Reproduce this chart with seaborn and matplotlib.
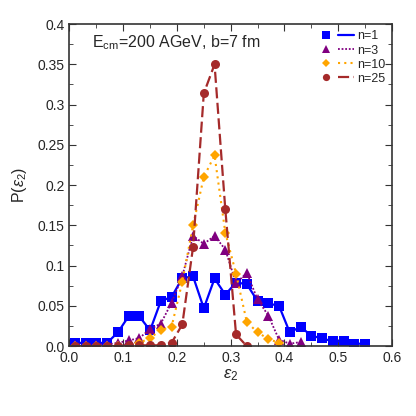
import numpy as np
import pandas as pd
import seaborn as sns
import matplotlib
matplotlib.use("Agg")
import matplotlib.pyplot as plt
from matplotlib.ticker import MultipleLocator, FixedLocator, FixedFormatter
from matplotlib.legend_handler import HandlerTuple
from matplotlib.lines import Line2D

# bin centres of epsilon_2
eps_n1 = [0.01, 0.03, 0.05, 0.07, 0.09, 0.11, 0.13, 0.15, 0.17, 0.19, 0.21, 0.23, 0.25, 0.27,
          0.29, 0.31, 0.33, 0.35, 0.37, 0.39, 0.41, 0.43, 0.45, 0.47, 0.49, 0.51, 0.53, 0.55]
p_n1 = [0.004, 0.004, 0.004, 0.004, 0.017, 0.037, 0.037, 0.0195, 0.056, 0.061, 0.0845, 0.0866,
        0.047, 0.084, 0.064, 0.079, 0.077, 0.056, 0.053, 0.050, 0.017, 0.024, 0.013, 0.0095,
        0.006, 0.006, 0.003, 0.003]

eps_n3 = [0.01, 0.03, 0.05, 0.07, 0.09, 0.11, 0.13, 0.15, 0.17, 0.19, 0.21, 0.23, 0.25, 0.27,
          0.29, 0.31, 0.33, 0.35, 0.37, 0.39, 0.41, 0.43]
p_n3 = [0.002, 0.002, 0.002, 0.002, 0.004, 0.007, 0.010, 0.021, 0.028, 0.054, 0.087, 0.137,
        0.127, 0.137, 0.120, 0.078, 0.091, 0.058, 0.038, 0.008, 0.003, 0.005]

eps_n10 = [0.01, 0.03, 0.05, 0.07, 0.09, 0.11, 0.13, 0.15, 0.17, 0.19, 0.21, 0.23, 0.25, 0.27,
           0.29, 0.31, 0.33, 0.35, 0.37, 0.39]
p_n10 = [0.0, 0.0, 0.0, 0.0, 0.0, 0.0, 0.004, 0.010, 0.020, 0.024, 0.080, 0.150, 0.210, 0.237,
         0.141, 0.090, 0.030, 0.017, 0.009, 0.004]

eps_n25 = [0.01, 0.03, 0.05, 0.07, 0.09, 0.11, 0.13, 0.15, 0.17, 0.19, 0.21, 0.23, 0.25, 0.27,
           0.29, 0.31, 0.33]
p_n25 = [0.0, 0.0, 0.0, 0.0, 0.0, 0.001, 0.001, 0.001, 0.001, 0.004, 0.027, 0.123, 0.314, 0.350,
         0.170, 0.0145, 0.0]

labels = ["n=1", "n=3", "n=10", "n=25"]

sns.set_style("ticks")
plt.rcParams['font.family'] = ['Liberation Sans', 'DejaVu Sans']
plt.rcParams['mathtext.fontset'] = 'custom'
plt.rcParams['mathtext.rm'] = 'Liberation Sans'
plt.rcParams['mathtext.it'] = 'Liberation Sans:italic'
plt.rcParams['mathtext.fallback'] = 'stixsans'

fig = plt.figure(figsize=(4.16, 4.16), dpi=100)
ax = fig.add_axes([0.167, 0.168, 0.775, 0.774])

series = [
    (eps_n1, p_n1, "#0000ff", "s", "-", 6.5, 1.6),
    (eps_n3, p_n3, "#800080", "^", (0, (1, 1)), 7, 1.3),
    (eps_n10, p_n10, "#ffa500", "D", (0, (1, 2)), 5, 1.5),
    (eps_n25, p_n25, "#a52a2a", "o", (0, (5, 2)), 6.5, 1.6),
]

handles = []
for (x, y, c, m, ls, ms, lw), lab in zip(series, labels):
    df = pd.DataFrame({"eps": x, "p": y})
    sns.lineplot(data=df, x="eps", y="p", ax=ax, color=c, marker=m, markersize=ms,
                 linestyle=ls, linewidth=lw, markeredgewidth=0, markeredgecolor=c)
    hm = Line2D([], [], color=c, marker=m, markersize=ms * 0.8, linestyle="none", markeredgewidth=0)
    hl = Line2D([], [], color=c, linestyle=ls, linewidth=lw)
    handles.append((hm, hl))

ax.set_xlim(0, 0.6)
ax.set_ylim(0, 0.4)
ax.xaxis.set_major_locator(FixedLocator([0, 0.1, 0.2, 0.3, 0.4, 0.5, 0.6]))
ax.xaxis.set_major_formatter(FixedFormatter(["0.0", "0.1", "0.2", "0.3", "0.4", "0.5", "0.6"]))
ax.xaxis.set_minor_locator(MultipleLocator(0.05))
yt = [0, 0.05, 0.1, 0.15, 0.2, 0.25, 0.3, 0.35, 0.4]
ax.yaxis.set_major_locator(FixedLocator(yt))
ax.yaxis.set_major_formatter(FixedFormatter(["0.0", "0.05", "0.1", "0.15", "0.2", "0.25", "0.3", "0.35", "0.4"]))
ax.yaxis.set_minor_locator(MultipleLocator(0.025))
ax.tick_params(which="both", direction="in", top=True, right=True, labelsize=10, color="#333333")
ax.tick_params(which="major", length=5)
ax.tick_params(which="minor", length=3)
for s in ax.spines.values():
    s.set_color("#333333")
    s.set_linewidth(1.2)

ax.set_xlabel(r"$\epsilon_2$", fontsize=12, labelpad=2)
ax.set_ylabel(r"P($\epsilon_2$)", fontsize=11.5, labelpad=6)
ax.text(0.069, 0.929, r"E$_{\rm cm}$=200 AGeV, b=7 fm", transform=ax.transAxes, fontsize=11.5,
        va="baseline", ha="left")

ax.legend(handles, labels, handler_map={tuple: HandlerTuple(ndivide=None, pad=0.3)},
          loc="upper right", frameon=False, fontsize=9, handlelength=2.8, handletextpad=0.3,
          labelspacing=0.17, borderaxespad=0.3, borderpad=0.2)

fig.savefig("out.png", dpi=100)
